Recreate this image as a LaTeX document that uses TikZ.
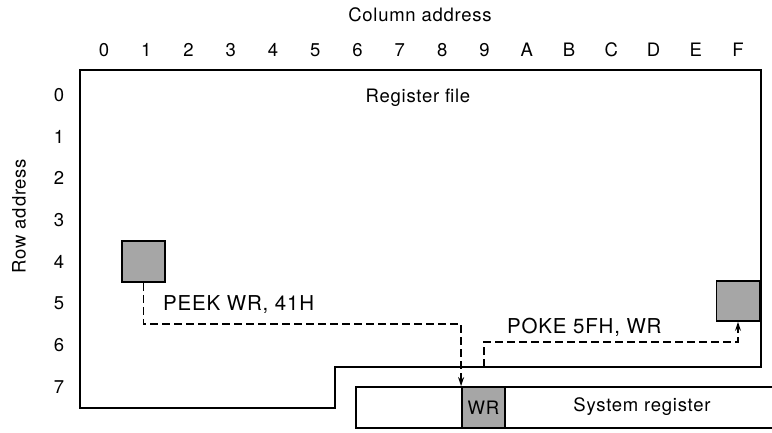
\documentclass[tikz,border=0pt]{standalone}
\usepackage{fontspec}
\setmainfont{TeX Gyre Heros}[LetterSpace=4]
\usetikzlibrary{arrows.meta}
\begin{document}
\begin{tikzpicture}[x=1pt,y=-1pt,
  every node/.style={font=\fontsize{18.5}{21}\selectfont, inner sep=0pt},
  big/.style={font=\fontsize{20.5}{23}\selectfont},
  outline/.style={line width=2pt, line join=miter},
  shade/.style={draw, line width=1.8pt, fill=black!35},
  flow/.style={line width=1.4pt, dash pattern=on 8pt off 4pt, -{Stealth[length=9pt,width=6pt]}}]
\useasboundingbox (0,0) rectangle (772,432);
% titles
\node (coltitle) at (420,15) {Column address};
\node[rotate=90] (rowtitle) at (19,216) {Row address};
\foreach \c [count=\i from 0] in {0,1,2,3,4,5,6,7,8,9,A,B,C,D,E,F}
  \node (col\i) at ({104+42.27*\i},50) {\c};
\foreach \r in {0,...,7}
  \node (row\r) at (59,{95+41.7*\r}) {\r};
% register file outline
\draw[outline] (80,70) -- (761,70) -- (761,367) -- (335,367) -- (335,408) -- (80,408) -- cycle;
\node (rf) at (418,98) {Register file};
% system register
\draw[outline] (772,387) -- (356,387) -- (356,428) -- (772,428);
\node[shade, minimum width=43pt, minimum height=41pt] (wr) at (483.5,407.5) {WR};
\node (sys) at (642,407) {System register};
% shaded registers
\node[shade, minimum width=43pt, minimum height=41pt] (src) at (143.5,261.5) {};
\node[shade, minimum width=43pt, minimum height=40pt] (dst) at (738,301) {};
% transfers
\coordinate (peekturn) at (143.5,324);
\coordinate (pokestart) at (484,367);
\coordinate (poketurn) at (484,342);
\draw[flow] (src.south) -- (peekturn) -| (wr.north west);
\draw[flow] (pokestart) -- (poketurn) -| (dst.south);
\node[big, anchor=west] (peek) at (163,305) {PEEK WR, 41H};
\node[big, anchor=west] (poke) at (507,327) {POKE 5FH, WR};
\end{tikzpicture}
\end{document}
